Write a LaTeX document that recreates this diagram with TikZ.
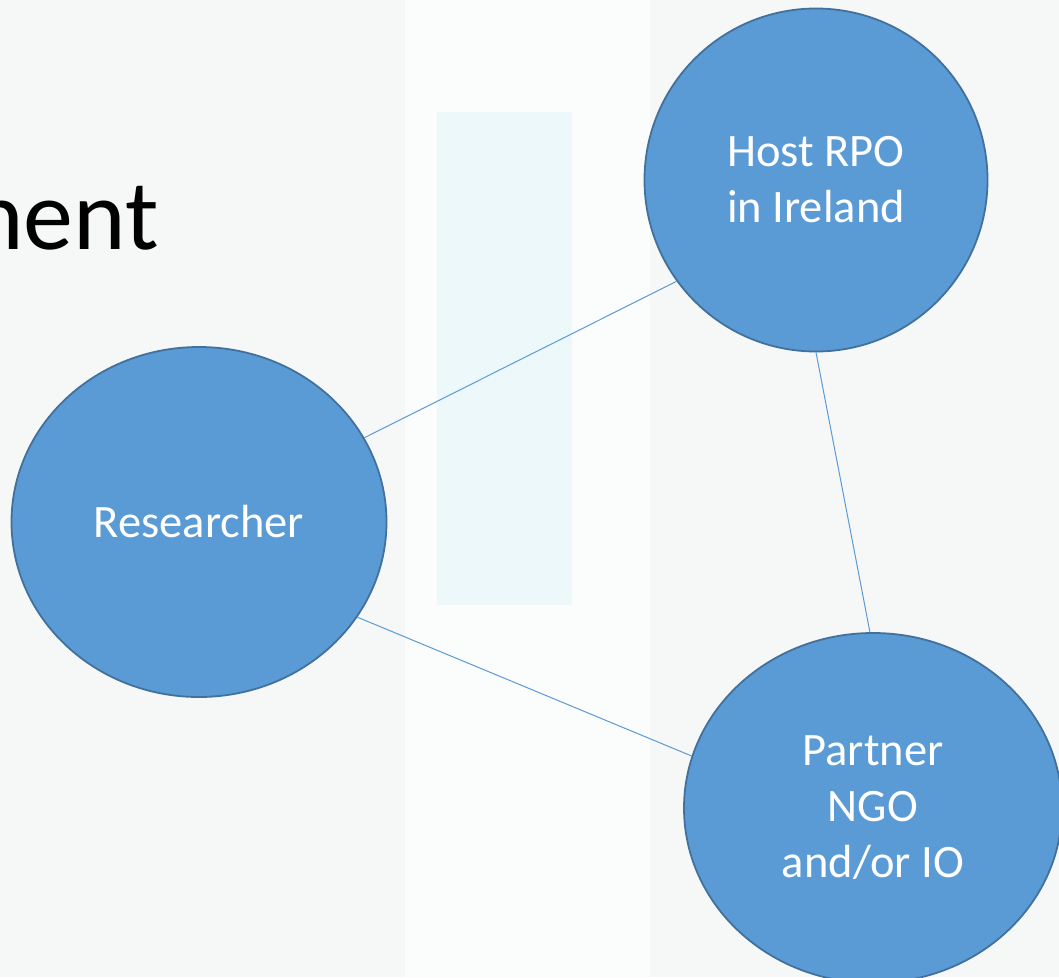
\documentclass[tikz,border=0pt]{standalone}
\usepackage{fontspec}
\setmainfont{Carlito}
\usetikzlibrary{shapes.geometric}
\definecolor{bgc}{HTML}{F6F7F7}
\definecolor{bandc}{HTML}{FBFCFC}
\definecolor{cyanc}{HTML}{EDF8FB}
\definecolor{fillc}{HTML}{5B9BD5}
\definecolor{edgec}{HTML}{41719C}
\tikzset{
  party/.style={ellipse, draw=edgec, line width=1.8pt, fill=fillc, text=white,
    align=center, inner sep=0pt, font=\fontsize{46.5}{56}\selectfont},
  link/.style={draw=fillc, line width=1pt}
}
\begin{document}
\begin{tikzpicture}[x=1pt,y=-1pt]
\useasboundingbox (0,0) rectangle (1059,977);
\fill[bgc] (0,0) rectangle (1059,977);
\fill[bandc] (405,0) rectangle (650,977);
\fill[cyanc] (437,112) rectangle (572,605);
\node[anchor=base east, font=\fontsize{100}{110}\selectfont, inner sep=0pt] (title) at (159,249) {nent};
\node[party, minimum width=375pt, minimum height=350pt] (res) at (199,522) {Researcher};
\node[party, minimum width=343pt, minimum height=343pt] (host) at (816,180) {Host RPO\\in Ireland};
\node[party, minimum width=378pt, minimum height=350pt] (part) at (873,808) {Partner\\NGO\\and/or IO};
\draw[link] (res.27) -- (host.216);
\draw[link] (res.329) -- (part.164);
\draw[link] (host.south) -- (part.91);
\end{tikzpicture}
\end{document}
